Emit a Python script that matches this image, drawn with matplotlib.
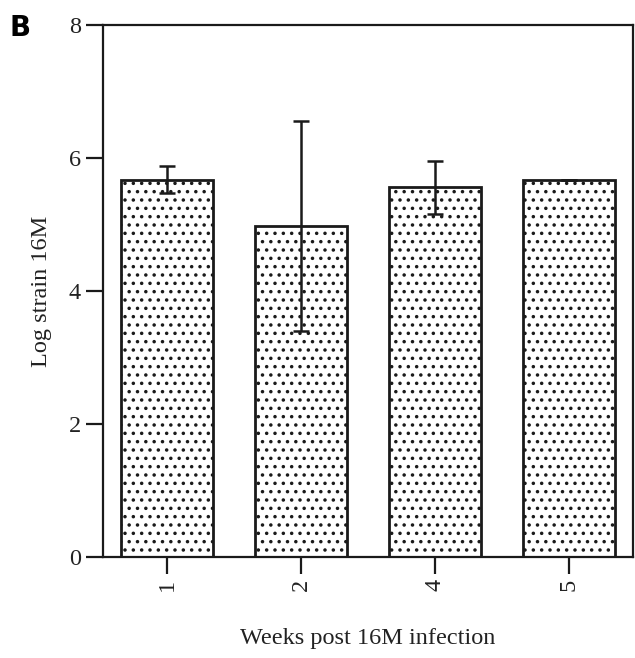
import numpy as np
import matplotlib.pyplot as plt
import matplotlib as mpl

# Data
weeks = ['1', '2', '4', '5']
log_strain = [5.68, 4.98, 5.56, 5.67]
err = [0.20, 1.58, 0.40, 0.0]

mpl.rcParams['hatch.linewidth'] = 1.3
mpl.rcParams['hatch.color'] = '#333333'
mpl.rcParams['font.family'] = 'Liberation Serif'

fig = plt.figure(figsize=(6.35, 6.58), dpi=100)
ax = fig.add_axes([0.162, 0.1535, 0.835, 0.808])

x = np.arange(len(weeks))
ax.bar(x, log_strain, width=0.69, color='white', edgecolor='#1a1a1a',
       linewidth=2.0, hatch='..', zorder=2)
ax.errorbar(x, log_strain, yerr=err, fmt='none', ecolor='#1a1a1a',
            elinewidth=1.8, capsize=6, capthick=1.8, zorder=3)

ax.set_xlim(-0.48, 3.48)
ax.set_ylim(0, 8)
ax.set_yticks([0, 2, 4, 6, 8])
ax.set_xticks(x)
ax.set_xticklabels(weeks, rotation=90)

for s in ax.spines.values():
    s.set_linewidth(1.6)
    s.set_color('#1a1a1a')
ax.tick_params(direction='out', length=12, width=1.6, labelsize=17.5,
               color='#1a1a1a', labelcolor='#222222', pad=4)
ax.tick_params(axis='x', pad=4)

ax.set_ylabel('Log strain 16M', fontsize=17.5, color='#222222', labelpad=12)
ax.set_xlabel('Weeks post 16M infection', fontsize=17.5, color='#222222', labelpad=26)

fig.text(0.015, 0.957, 'B', fontsize=20, fontweight='bold',
         family='DejaVu Sans', va='center', ha='left')

fig.savefig('out.png', dpi=100)
